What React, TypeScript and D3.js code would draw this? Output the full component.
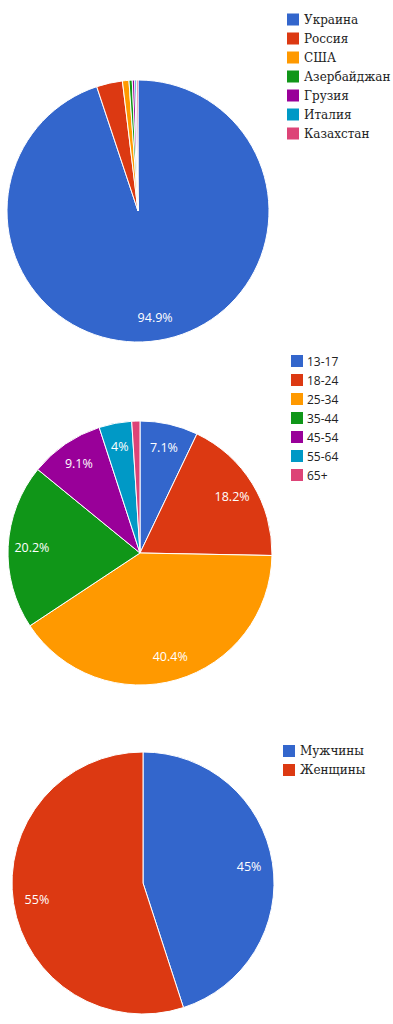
import React from "react";
import * as d3 from "d3";

const colors = ["#3366cc", "#dc3912", "#ff9900", "#109618", "#990099", "#0099c6", "#dd4477"];

const countryLabels = ["Украина", "Россия", "США", "Азербайджан", "Грузия", "Италия", "Казахстан"];
const countryValues = [94.9, 3.2, 0.8, 0.4, 0.3, 0.2, 0.2];

const ageLabels = ["13-17", "18-24", "25-34", "35-44", "45-54", "55-64", "65+"];
const ageValues = [7.1, 18.2, 40.4, 20.2, 9.1, 4.0, 1.0];

const genderLabels = ["Мужчины", "Женщины"];
const genderValues = [45, 55];

type PieProps = {
  labels: string[];
  values: number[];
  cx: number;
  cy: number;
  r: number;
  legendX: number;
  legendY: number;
  legendStep: number;
  legendFont: string;
  legendSize: number;
  textGap: number;
};

const fmt = (v: number) => {
  const s = d3.format(".1f")(v);
  return (s.endsWith(".0") ? s.slice(0, -2) : s) + "%";
};

function Pie(p: PieProps) {
  const total = d3.sum(p.values);
  const pie = d3.pie<number>().sort(null).value((d) => d);
  const arcs = pie(p.values);
  const arc = d3.arc<d3.PieArcDatum<number>>().innerRadius(0).outerRadius(p.r);
  const labelArc = d3.arc<d3.PieArcDatum<number>>().innerRadius(p.r * 0.82).outerRadius(p.r * 0.82);
  return (
    <g>
      <g transform={`translate(${p.cx},${p.cy})`}>
        {arcs.map((a, i) => (
          <path key={i} d={arc(a) || ""} fill={colors[i]} stroke="#ffffff" strokeWidth={1} />
        ))}
        {arcs.map((a, i) => {
          const pct = (a.data / total) * 100;
          if (pct < 3.5) return null;
          const [x, y] = labelArc.centroid(a);
          return (
            <text
              key={"l" + i}
              x={x}
              y={y}
              textAnchor="middle"
              dominantBaseline="central"
              fill="#ffffff"
              fontFamily="'Open Sans', sans-serif"
              fontSize={12.5}
            >
              {fmt(pct)}
            </text>
          );
        })}
      </g>
      <g>
        {p.labels.map((l, i) => (
          <g key={"lg" + i} transform={`translate(${p.legendX},${p.legendY + i * p.legendStep})`}>
            <rect x={0} y={-6} width={12} height={12} fill={colors[i]} />
            <text
              x={p.textGap}
              y={0}
              dominantBaseline="central"
              fontFamily={p.legendFont}
              fontSize={p.legendSize}
              fill="#222222"
            >
              {l}
            </text>
          </g>
        ))}
      </g>
    </g>
  );
}

export default function App() {
  return (
    <div style={{ position: "absolute", left: 0, top: 0 }}>
      <svg width={393} height={1024} style={{ display: "block" }}>
        <rect width={393} height={1024} fill="#ffffff" />
        <Pie
          labels={countryLabels}
          values={countryValues}
          cx={138}
          cy={211}
          r={131}
          legendX={287}
          legendY={19.5}
          legendStep={19}
          legendFont="'DejaVu Serif', serif"
          legendSize={12}
          textGap={17}
        />
        <Pie
          labels={ageLabels}
          values={ageValues}
          cx={140}
          cy={553}
          r={132}
          legendX={291}
          legendY={361}
          legendStep={19}
          legendFont="'Open Sans', sans-serif"
          legendSize={12}
          textGap={16}
        />
        <Pie
          labels={genderLabels}
          values={genderValues}
          cx={143}
          cy={883}
          r={131}
          legendX={283}
          legendY={751}
          legendStep={19}
          legendFont="'DejaVu Serif', serif"
          legendSize={12}
          textGap={17}
        />
      </svg>
    </div>
  );
}
